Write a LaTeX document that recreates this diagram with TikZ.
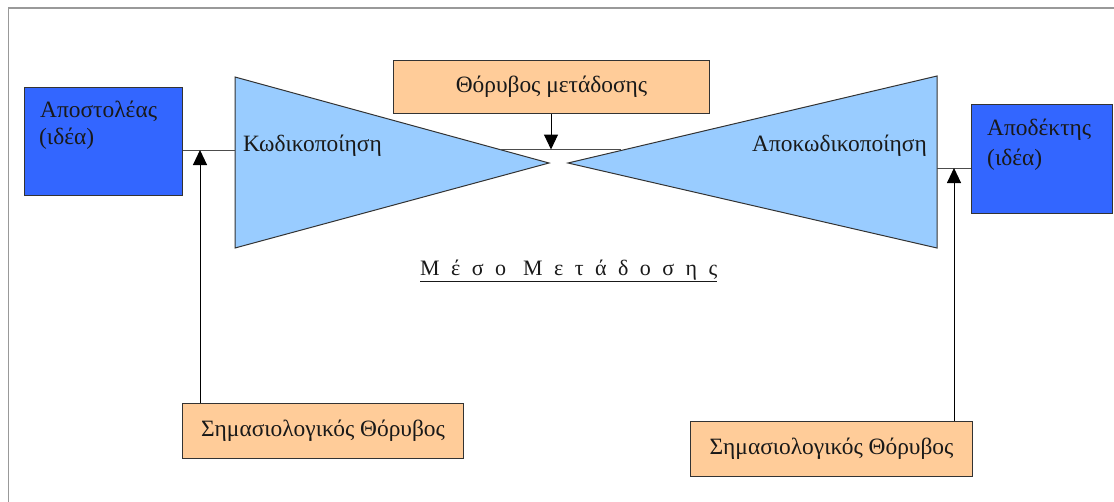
\documentclass[tikz,border=0pt]{standalone}
\usepackage{fontspec}
\setmainfont{Liberation Serif}
\usetikzlibrary{arrows.meta}
\definecolor{deepblue}{HTML}{3366FF}
\definecolor{paleblue}{HTML}{99CCFF}
\definecolor{peach}{HTML}{FFCC99}
\definecolor{framegray}{HTML}{999999}
\definecolor{inkgray}{HTML}{333333}

\begin{document}
\begin{tikzpicture}[x=1pt,y=-1pt,
  font=\fontsize{23.4}{27}\selectfont,
  party/.style={draw=inkgray, fill=deepblue, line width=1pt, inner sep=0pt, anchor=north west},
  noisebox/.style={draw=inkgray, fill=peach, line width=1pt, inner sep=0pt, anchor=north west, text=black!90},
  funnel/.style={draw=inkgray, fill=paleblue, line width=1pt, line join=miter},
  label/.style={inner sep=0pt, anchor=base west, text=black!90},
  link/.style={draw=black!70, line width=1pt},
  noisearrow/.style={draw=black, line width=1pt, -{Triangle[width=14pt,length=15pt]}}]

  % page size and outer frame
  \useasboundingbox (0,0) rectangle (1114,501);
  \clip (0,0) rectangle (1114,501);
  \draw[framegray, line width=1.5pt] (8.5,8) rectangle (1130,520);

  % sender and receiver
  \node[party, minimum width=158pt, minimum height=108pt] (sender) at (24,87) {};
  \node[label] (sendername) at (40,117) {Αποστολέας};
  \node[label] (senderidea) at (39,144) {(ιδέα)};

  \node[party, minimum width=141pt, minimum height=109pt] (receiver) at (971,104) {};
  \node[label] (receivername) at (987,135) {Αποδέκτης};
  \node[label] (receiveridea) at (987,165) {(ιδέα)};

  % encoder and decoder funnels
  \coordinate (encTop) at (235,77);
  \coordinate (encBot) at (235,248);
  \coordinate (encTip) at (549,163);
  \coordinate (decTop) at (937,76);
  \coordinate (decBot) at (937,248);
  \coordinate (decTip) at (568,163);
  \draw[funnel] (encTop) -- (encTip) -- (encBot) -- cycle;
  \draw[funnel] (decTop) -- (decTip) -- (decBot) -- cycle;
  \node[label] (enclabel) at (243,151) {Κωδικοποίηση};
  \node[label, anchor=base east] (declabel) at (927,151) {Αποκωδικοποίηση};

  % channel line between the funnels
  \coordinate (chanL) at (500,149.5);
  \coordinate (chanR) at (621,149.5);
  \draw[link] (chanL) -- (chanR);

  % links from sender and to receiver
  \coordinate (encIn) at (235,150);
  \coordinate (decOut) at (937,168);
  \draw[link] (sender.east |- encIn) -- (encIn);
  \draw[link] (decOut) -- (receiver.west |- decOut);

  % noise sources
  \node[noisebox, minimum width=316pt, minimum height=53pt] (chnoise) at (393,60) {Θόρυβος μετάδοσης};
  \node[noisebox, minimum width=281pt, minimum height=55pt] (semnoiseL) at (182,403) {Σημασιολογικός Θόρυβος};
  \node[noisebox, minimum width=282pt, minimum height=55pt] (semnoiseR) at (690,421) {Σημασιολογικός Θόρυβος};

  \coordinate (chanHit) at (551,149.5);
  \draw[noisearrow] (chnoise.south -| chanHit) -- (chanHit);
  \coordinate (encHit) at (200,150);
  \draw[noisearrow] (semnoiseL.north -| encHit) -- (encHit);
  \coordinate (decHit) at (954,168);
  \draw[noisearrow] (semnoiseR.north -| decHit) -- (decHit);

  % medium caption
  \node[label, font=\fontsize{22}{26}\selectfont\addfontfeature{LetterSpace=52}] (medium) at (420,275)
    {\underline{Μέσο Μετάδοσης}};
\end{tikzpicture}
\end{document}
